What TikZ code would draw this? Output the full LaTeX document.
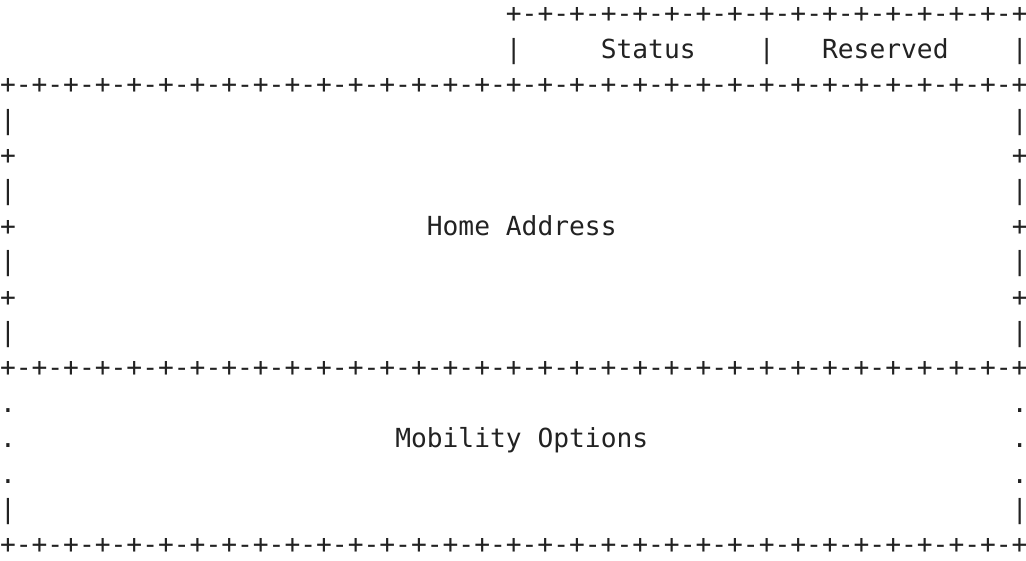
\documentclass[tikz,border=0pt]{standalone}
\usepackage{fontspec}
\setmonofont{DejaVu Sans Mono}
\definecolor{ink}{HTML}{222222}
\newcommand\cw{15.81}
\newcommand\cell[4]{\node[txt] (#1) at ({#2*\cw},{561-22.9-35.4*#3}) {#4};}
\begin{document}
\begin{tikzpicture}[x=1pt,y=1pt,
  txt/.style={anchor=base west, inner sep=0pt, outer sep=0pt,
    font=\ttfamily\fontsize{26.26}{30}\selectfont, text=ink}]
\useasboundingbox (0,0) rectangle (1026,561);
% row 0
\cell{top}{32}{0}{+-+-+-+-+-+-+-+-+-+-+-+-+-+-+-+-+}
% row 1
\cell{b1a}{32}{1}{|}
\cell{status}{38}{1}{Status}
\cell{b1b}{48}{1}{|}
\cell{reserved}{52}{1}{Reserved}
\cell{b1c}{64}{1}{|}
% row 2
\cell{sep1}{0}{2}{+-+-+-+-+-+-+-+-+-+-+-+-+-+-+-+-+-+-+-+-+-+-+-+-+-+-+-+-+-+-+-+-+}
% rows 3-9
\cell{l3}{0}{3}{|}\cell{r3}{64}{3}{|}
\cell{l4}{0}{4}{+}\cell{r4}{64}{4}{+}
\cell{l5}{0}{5}{|}\cell{r5}{64}{5}{|}
\cell{l6}{0}{6}{+}\cell{home}{27}{6}{Home Address}\cell{r6}{64}{6}{+}
\cell{l7}{0}{7}{|}\cell{r7}{64}{7}{|}
\cell{l8}{0}{8}{+}\cell{r8}{64}{8}{+}
\cell{l9}{0}{9}{|}\cell{r9}{64}{9}{|}
% row 10
\cell{sep2}{0}{10}{+-+-+-+-+-+-+-+-+-+-+-+-+-+-+-+-+-+-+-+-+-+-+-+-+-+-+-+-+-+-+-+-+}
% rows 11-14
\cell{l11}{0}{11}{.}\cell{r11}{64}{11}{.}
\cell{l12}{0}{12}{.}\cell{mob}{25}{12}{Mobility Options}\cell{r12}{64}{12}{.}
\cell{l13}{0}{13}{.}\cell{r13}{64}{13}{.}
\cell{l14}{0}{14}{|}\cell{r14}{64}{14}{|}
% row 15
\cell{sep3}{0}{15}{+-+-+-+-+-+-+-+-+-+-+-+-+-+-+-+-+-+-+-+-+-+-+-+-+-+-+-+-+-+-+-+-+}
\end{tikzpicture}
\end{document}
